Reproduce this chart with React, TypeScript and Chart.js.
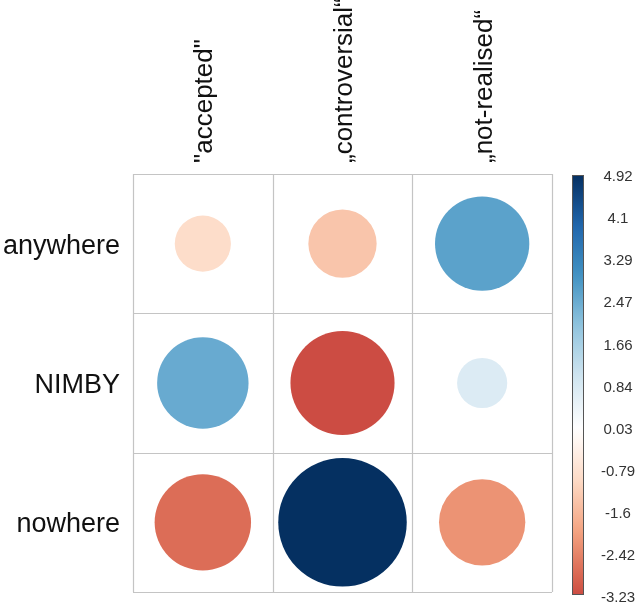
import React, { useEffect, useRef } from "react";
import { Chart, registerables } from "chart.js";

Chart.register(...registerables);

// Categories
const rowLabels = ["anywhere", "NIMBY", "nowhere"];
const colLabels = ['"accepted"', "\u201Econtroversial\u201C", "\u201Enot-realised\u201C"];

// Residuals per row, ordered by column
const anywhereRes = [-0.94, -1.39, 2.65];
const nimbyRes = [2.49, -3.23, 0.75];
const nowhereRes = [-2.77, 4.92, -2.22];

// Colour legend tick labels (top to bottom)
const legendTicks = ["4.92", "4.1", "3.29", "2.47", "1.66", "0.84", "0.03", "-0.79", "-1.6", "-2.42", "-3.23"];
const legendMax = 4.92;
const legendMin = -3.23;

// Diverging RdBu ramp, from -1 to +1
const ramp = [
  "#67001F", "#B2182B", "#D6604D", "#F4A582", "#FDDBC7", "#FFFFFF",
  "#D1E5F0", "#92C5DE", "#4393C3", "#2166AC", "#053061",
];

const allRes = [...anywhereRes, ...nimbyRes, ...nowhereRes];
const maxAbs = Math.max(...allRes.map((v) => Math.abs(v)));

function hexToRgb(h: string) {
  const n = parseInt(h.slice(1), 16);
  return [(n >> 16) & 255, (n >> 8) & 255, n & 255];
}

function colourFor(v: number) {
  const t = Math.max(-1, Math.min(1, v / maxAbs));
  const pos = ((t + 1) / 2) * (ramp.length - 1);
  const i = Math.min(ramp.length - 2, Math.floor(pos));
  const f = pos - i;
  const a = hexToRgb(ramp[i]);
  const b = hexToRgb(ramp[i + 1]);
  const c = a.map((x, k) => Math.round(x + (b[k] - x) * f));
  return `rgb(${c[0]},${c[1]},${c[2]})`;
}

const rowsData = [anywhereRes, nimbyRes, nowhereRes];
const points = rowsData.flatMap((row, ri) =>
  row.map((v, ci) => ({ x: ci + 1, y: rowLabels.length - ri, v }))
);

const FONT = "'Liberation Sans', Arial, Helvetica, sans-serif";

const matrixDecor = {
  id: "matrixDecor",
  beforeDatasetsDraw(chart: any) {
    const { ctx, scales } = chart;
    const xs = scales.x;
    const ys = scales.y;
    ctx.save();
    ctx.strokeStyle = "#c4c4c4";
    ctx.lineWidth = 1.2;
    for (let k = 0; k <= colLabels.length; k++) {
      const px = Math.round(xs.getPixelForValue(k + 0.5)) + 0.5;
      ctx.beginPath();
      ctx.moveTo(px, ys.getPixelForValue(0.5));
      ctx.lineTo(px, ys.getPixelForValue(rowLabels.length + 0.5));
      ctx.stroke();
    }
    for (let k = 0; k <= rowLabels.length; k++) {
      const py = Math.round(ys.getPixelForValue(k + 0.5)) + 0.5;
      ctx.beginPath();
      ctx.moveTo(xs.getPixelForValue(0.5), py);
      ctx.lineTo(xs.getPixelForValue(colLabels.length + 0.5), py);
      ctx.stroke();
    }
    ctx.restore();
  },
  afterDraw(chart: any) {
    const { ctx, scales, chartArea } = chart;
    const xs = scales.x;
    const ys = scales.y;
    ctx.save();

    // Row labels
    ctx.fillStyle = "#111";
    ctx.font = `27px ${FONT}`;
    ctx.textAlign = "right";
    ctx.textBaseline = "alphabetic";
    rowLabels.forEach((lab, ri) => {
      const py = ys.getPixelForValue(rowLabels.length - ri);
      ctx.fillText(lab, chartArea.left - 13, py + 10);
    });

    // Column labels, rotated
    ctx.font = `26px ${FONT}`;
    ctx.textAlign = "left";
    colLabels.forEach((lab, ci) => {
      const px = xs.getPixelForValue(ci + 1);
      ctx.save();
      ctx.translate(px + 9.5, chartArea.top - 11);
      ctx.rotate(-Math.PI / 2);
      ctx.fillText(lab, 0, 0);
      ctx.restore();
    });

    // Colour bar
    const barL = chartArea.right + 20;
    const barW = 12;
    const barT = chartArea.top + 1;
    const barB = chartArea.bottom + 3;
    const grad = ctx.createLinearGradient(0, barT, 0, barB);
    const steps = 40;
    for (let s = 0; s <= steps; s++) {
      const v = legendMax - ((legendMax - legendMin) * s) / steps;
      grad.addColorStop(s / steps, colourFor(v));
    }
    ctx.fillStyle = grad;
    ctx.fillRect(barL, barT, barW, barB - barT);
    ctx.strokeStyle = "#555";
    ctx.lineWidth = 1;
    ctx.strokeRect(barL + 0.5, barT + 0.5, barW - 1, barB - barT - 1);

    // Colour bar tick labels
    ctx.fillStyle = "#333";
    ctx.font = `15px ${FONT}`;
    ctx.textAlign = "center";
    ctx.textBaseline = "middle";
    const labT = barT + 2;
    const labB = barB + 3;
    legendTicks.forEach((t, i) => {
      const y = labT + ((labB - labT) * i) / (legendTicks.length - 1);
      ctx.fillText(t, barL + 46, y);
    });

    ctx.restore();
  },
};

// Circle radius scales with the square root of |residual|, relative to the cell width
function radiusFor(c: any) {
  const xs = c.chart.scales.x;
  if (!xs) return 0;
  const cell = Math.abs(xs.getPixelForValue(1) - xs.getPixelForValue(0));
  const v = c.raw ? c.raw.v : 0;
  const r = 0.46 * cell * Math.sqrt(Math.abs(v) / maxAbs);
  return Number.isFinite(r) ? r : 0;
}

export default function App() {
  const ref = useRef<HTMLCanvasElement>(null);

  useEffect(() => {
    if (!ref.current) return;
    const chart = new Chart(ref.current, {
      type: "scatter",
      data: {
        datasets: [
          {
            data: points as any,
            pointBackgroundColor: (c: any) => colourFor(c.raw ? c.raw.v : 0),
            pointBorderColor: (c: any) => colourFor(c.raw ? c.raw.v : 0),
            pointBorderWidth: 0,
            pointRadius: radiusFor,
            pointHoverRadius: radiusFor,
            pointHitRadius: 0,
            showLine: false,
            clip: false,
          } as any,
        ],
      },
      options: {
        responsive: false,
        animation: false,
        events: [],
        layout: { padding: { left: 133, top: 174, right: 88, bottom: 10 } },
        scales: {
          x: { type: "linear", min: 0.5, max: 3.5, display: false },
          y: { type: "linear", min: 0.5, max: 3.5, display: false },
        },
        plugins: {
          legend: { display: false },
          tooltip: { enabled: false },
        },
      },
      plugins: [matrixDecor],
    });
    return () => chart.destroy();
  }, []);

  return (
    <div style={{ position: "fixed", left: 0, top: 0, width: 640, height: 602, background: "#fff" }}>
      <canvas ref={ref} width={640} height={602} />
    </div>
  );
}
